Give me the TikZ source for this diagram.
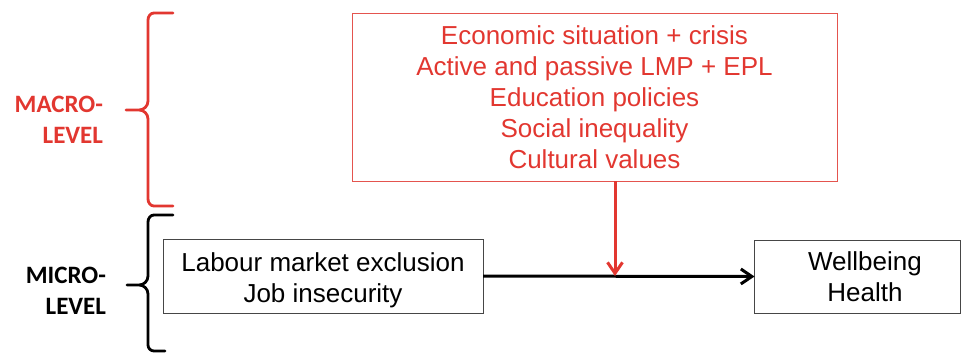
\documentclass[tikz,border=0pt]{standalone}
\usepackage{fontspec}
\setmainfont{Liberation Sans}
\newfontfamily\labelfont{Carlito Bold}
\usetikzlibrary{arrows.meta}
\definecolor{policyred}{RGB}{226,55,48}
\definecolor{boxred}{RGB}{228,84,78}
\definecolor{boxgray}{RGB}{70,70,70}

\begin{document}
\begin{tikzpicture}[x=1pt,y=-1pt,
  every node/.style={inner sep=0pt, outer sep=0pt},
  txt/.style={font=\fontsize{26}{31}\selectfont, align=center},
  lvl/.style={font=\labelfont\fontsize{25}{31}\selectfont, align=right, anchor=east},
  plainbox/.style={draw=boxgray, line width=1pt, rectangle},
  brace/.style={line width=2.8pt, line join=round, line cap=round},
  flow/.style={line width=3pt, -{Straight Barb[length=11pt,width=15pt]}}
]
\useasboundingbox (0,0) rectangle (962,354);

% macro-level factors
\node[draw=boxred, line width=1pt, minimum width=485pt, minimum height=168pt,
      txt, text=policyred] (macrobox) at (594.5,97)
  {Economic situation + crisis\\Active and passive LMP + EPL\\Education policies\\Social inequality\\Cultural values};

% micro-level boxes
\node[plainbox, minimum width=320pt, minimum height=74pt] (exclbox) at (323,276) {};
\node[txt] (excltext) at (323,280) {Labour market exclusion\\Job insecurity};
\node[plainbox, minimum width=206pt, minimum height=73pt] (wellbox) at (857.5,276.5) {};
\node[txt] (welltext) at (865,276.5) {Wellbeing\\Health};

% connectors
\coordinate (meet) at (615,276);
\draw[flow] (exclbox.east) -- (wellbox.west);
\draw[flow, policyred] (macrobox.south -| meet) -- (meet);

% level braces
\draw[brace, policyred] (173,13) -- (154,13) to[out=180,in=90] (148,20)
  -- (148,101) to[out=-90,in=0] (139,110) -- (126,110) -- (139,110)
  to[out=0,in=90] (148,119) -- (148,199) to[out=-90,in=180] (154,206) -- (173,206);
\draw[brace] (173,215) -- (154,215) to[out=180,in=90] (148,222)
  -- (148,276) to[out=-90,in=0] (139,285) -- (127,285) -- (139,285)
  to[out=0,in=90] (148,294) -- (148,345) to[out=-90,in=180] (154,351) -- (165,351);

% level labels
\node[lvl, text=policyred] (macrolbl) at (103,119.5) {MACRO-\\LEVEL};
\node[lvl] (microlbl) at (106,290.5) {MICRO-\\LEVEL};
\end{tikzpicture}
\end{document}
